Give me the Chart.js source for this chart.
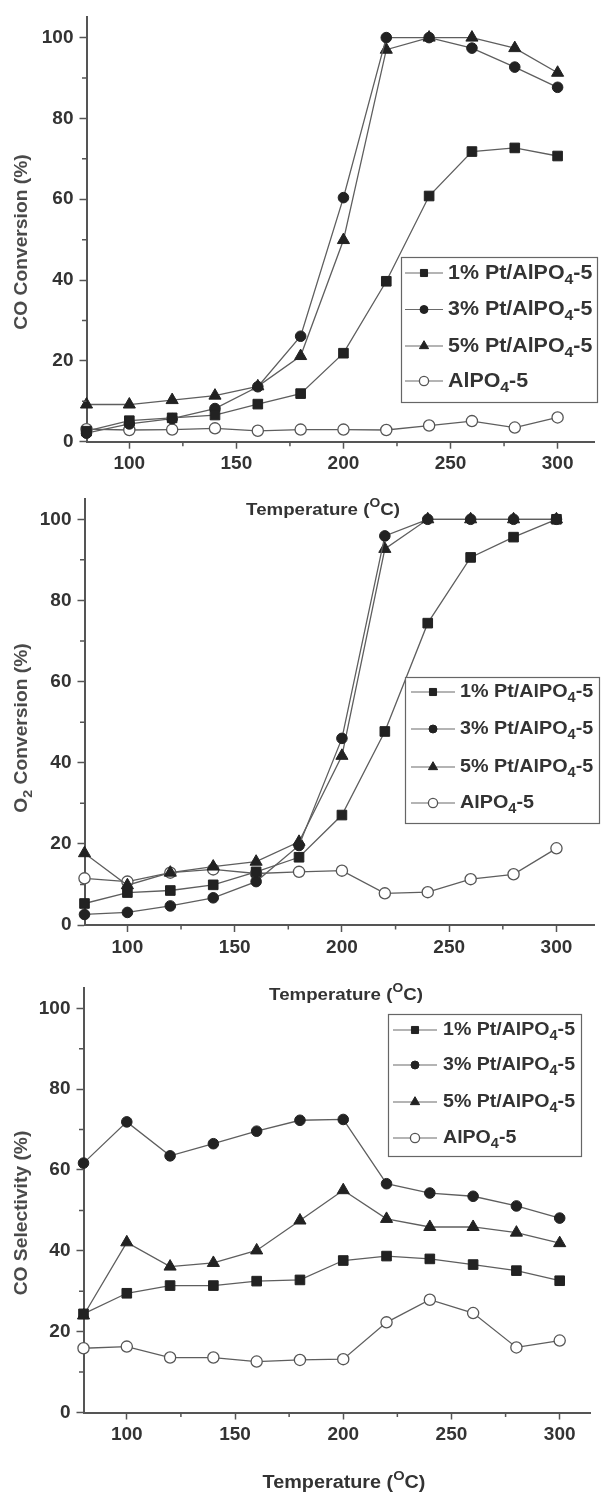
<!DOCTYPE html>
<html><head><meta charset="utf-8">
<script src="https://cdn.jsdelivr.net/npm/chart.js@4.4.0/dist/chart.umd.min.js"></script>
<style>
html,body{margin:0;padding:0;background:#fff;}
#wrap{position:relative;width:602px;height:1495px;overflow:hidden;background:#fff;}
canvas{position:absolute;left:0;}
</style></head><body>
<div id="wrap">
<canvas id="c1" width="602" height="530" style="top:0px"></canvas>
<canvas id="c2" width="602" height="530" style="top:480px"></canvas>
<canvas id="c3" width="602" height="525" style="top:970px"></canvas>
</div>
<script>
// ---------- data ----------
const temperatures = [80,100,120,140,160,180,200,220,240,260,280,300];
const xTickValues = [100,150,200,250,300];
const xMinorTickValues = [125,175,225,275];
const yTickValues = [0,20,40,60,80,100];
const yMinorTickValues = [10,30,50,70,90];

const legendLabels = [
  [['1% Pt/AlPO',''],['4','sub'],['-5','']],
  [['3% Pt/AlPO',''],['4','sub'],['-5','']],
  [['5% Pt/AlPO',''],['4','sub'],['-5','']],
  [['AlPO',''],['4','sub'],['-5','']]
];
const xTitle = [['Temperature (',''],['O','sup'],['C)','']];
const yTitleCO = [['CO Conversion (%)','']];
const yTitleO2 = [['O',''],['2','sub'],[' Conversion (%)','']];
const yTitleSel = [['CO Selectivity (%)','']];

const coConv1 = [2.6,5.2,5.9,6.6,9.3,11.9,21.9,39.7,60.8,71.8,72.7,70.7];
const coConv3 = [2.1,4.4,5.7,8.2,13.6,26.1,60.4,100,100,97.4,92.7,87.7];
const coConv5 = [9.2,9.2,10.3,11.4,13.7,21.2,49.9,97.0,100,100,97.4,91.3];
const coConvSupport = [3.1,2.9,3.0,3.3,2.7,3.0,3.0,2.9,4.0,5.1,3.5,6.0];

const o2Conv1 = [5.3,8.0,8.5,9.9,13.1,16.7,27.1,47.7,74.4,90.6,95.6,100];
const o2Conv3 = [2.6,3.1,4.7,6.7,10.7,19.6,46.0,95.9,100,100,100,100];
const o2Conv5 = [17.7,9.8,12.9,14.4,15.6,20.5,41.7,92.7,100,100,100,100];
const o2ConvSupport = [11.5,10.7,12.9,13.7,12.7,13.1,13.4,7.8,8.1,11.3,12.5,18.9];

const coSel1 = [24.4,29.5,31.4,31.4,32.5,32.8,37.6,38.7,38.0,36.6,35.1,32.6];
const coSel3 = [61.7,71.9,63.5,66.5,69.6,72.3,72.5,56.6,54.3,53.5,51.1,48.1];
const coSel5 = [24.0,42.1,36.1,37.0,40.1,47.5,55.0,47.9,45.9,45.9,44.5,41.9];
const coSelSupport = [15.9,16.3,13.6,13.6,12.6,13.0,13.2,22.3,27.9,24.6,16.1,17.8];

// ---------- styles ----------
const FONT = '"Liberation Sans", Arial, Helvetica, sans-serif';
const markerStyles = [
  {pointStyle:'rect', radius:6.8, fill:'#222', stroke:'#222', bw:1, lr:5},
  {pointStyle:'circle', radius:5.3, fill:'#222', stroke:'#222', bw:1, lr:4},
  {pointStyle:'triangle', radius:7, fill:'#222', stroke:'#222', bw:1, lr:5.3},
  {pointStyle:'circle', radius:5.6, fill:'#fff', stroke:'#555', bw:1.3, lr:4.6}
];

const specs = [
  {id:'c1', h:530, areaLeft:86.5, areaRight:600, areaTop:15.7, areaBottom:441.7, xMax:317,
   series:[coConv1,coConv3,coConv5,coConvSupport], yTitle:yTitleCO, yTitleX:22, yTitleY:242,
   xTitleX:323, xTitleY:510, xTitleSize:17,
   legend:{box:[401,257,598,403], rows:[273,309.5,346,381], lineX:[405,443], markX:424, textX:448, size:20, sx:1.07}},
  {id:'c2', h:530, areaLeft:84.5, areaRight:600, areaTop:19, areaBottom:445, xMax:317.5,
   series:[o2Conv1,o2Conv3,o2Conv5,o2ConvSupport], yTitle:yTitleO2, yTitleX:22, yTitleY:248,
   xTitleX:346, xTitleY:515, xTitleSize:17,
   legend:{box:[405,197,600,344], rows:[212,249,287,323], lineX:[411,455], markX:433, textX:460, size:19, sx:1.04}},
  {id:'c3', h:525, areaLeft:83.5, areaRight:590, areaTop:18.1, areaBottom:442.5, xMax:314,
   series:[coSel1,coSel3,coSel5,coSelSupport], yTitle:yTitleSel, yTitleX:22, yTitleY:243,
   xTitleX:344, xTitleY:513, xTitleSize:18,
   legend:{box:[388,44,582,187], rows:[60,95,132,168], lineX:[393,437], markX:415, textX:443, size:19, sx:1.03}}
];

// ---------- helpers ----------
function partSize(size, m){ return m ? size*0.74 : size; }
function richWidth(ctx, parts, size){
  let w = 0;
  for (const [t,m] of parts){ ctx.font = `bold ${partSize(size,m)}px ${FONT}`; w += ctx.measureText(t).width; }
  return w;
}
function drawRich(ctx, parts, x, y, size, opt){
  const sx = opt.sx || 1;
  const w = richWidth(ctx, parts, size) * sx;
  const x0 = opt.align === 'center' ? x - w/2 : x;
  ctx.save();
  ctx.translate(x0, y);
  ctx.scale(sx, 1);
  ctx.textBaseline = 'middle';
  ctx.textAlign = 'left';
  ctx.fillStyle = opt.color || '#333';
  let cx = 0;
  for (const [t,m] of parts){
    ctx.font = `bold ${partSize(size,m)}px ${FONT}`;
    const dy = m === 'sub' ? size*0.34 : (m === 'sup' ? -size*0.36 : 0);
    ctx.fillText(t, cx, dy);
    cx += ctx.measureText(t).width;
  }
  ctx.restore();
}
function drawMarker(ctx, st, x, y, r){
  ctx.save();
  ctx.fillStyle = st.fill; ctx.strokeStyle = st.stroke; ctx.lineWidth = st.bw;
  ctx.beginPath();
  if (st.pointStyle === 'rect'){
    const s = r*Math.SQRT1_2;
    ctx.rect(x-s, y-s, 2*s, 2*s);
  } else if (st.pointStyle === 'triangle'){
    ctx.moveTo(x, y - r);
    ctx.lineTo(x + r*Math.sin(2*Math.PI/3), y - r*Math.cos(2*Math.PI/3));
    ctx.lineTo(x + r*Math.sin(4*Math.PI/3), y - r*Math.cos(4*Math.PI/3));
    ctx.closePath();
  } else {
    ctx.arc(x, y, r, 0, Math.PI*2);
  }
  ctx.fill(); ctx.stroke();
  ctx.restore();
}

const decorPlugin = {
  id:'decor',
  afterDraw(chart, args, opts){
    const spec = opts.spec;
    const ctx = chart.ctx;
    const xs = chart.scales.x, ys = chart.scales.y;
    // minor ticks
    ctx.save();
    ctx.strokeStyle = '#555'; ctx.lineWidth = 1.5;
    ctx.beginPath();
    for (const v of xMinorTickValues){
      const px = xs.getPixelForValue(v);
      ctx.moveTo(px, xs.top); ctx.lineTo(px, xs.top + 4.5);
    }
    for (const v of yMinorTickValues){
      const py = ys.getPixelForValue(v);
      ctx.moveTo(ys.right, py); ctx.lineTo(ys.right - 4.5, py);
    }
    ctx.stroke();
    ctx.restore();
    // axis titles
    drawRich(ctx, xTitle, spec.xTitleX, spec.xTitleY, spec.xTitleSize, {align:'center', sx:1.1, color:'#333'});
    ctx.save();
    ctx.translate(spec.yTitleX, spec.yTitleY);
    ctx.rotate(-Math.PI/2);
    drawRich(ctx, spec.yTitle, 0, 0, 17.5, {align:'center', sx:1.1, color:'#4a4a4a'});
    ctx.restore();
    // legend
    const L = spec.legend;
    ctx.save();
    ctx.fillStyle = '#fff';
    ctx.fillRect(L.box[0], L.box[1], L.box[2]-L.box[0], L.box[3]-L.box[1]);
    ctx.strokeStyle = '#666'; ctx.lineWidth = 1.2;
    ctx.strokeRect(L.box[0]+0.5, L.box[1]+0.5, L.box[2]-L.box[0]-1, L.box[3]-L.box[1]-1);
    ctx.restore();
    legendLabels.forEach((parts, i) => {
      const y = L.rows[i];
      ctx.save();
      ctx.strokeStyle = '#6a6a6a'; ctx.lineWidth = 1.2;
      ctx.beginPath(); ctx.moveTo(L.lineX[0], y); ctx.lineTo(L.lineX[1], y); ctx.stroke();
      ctx.restore();
      drawMarker(ctx, markerStyles[i], L.markX, y, markerStyles[i].lr);
      drawRich(ctx, parts, L.textX, y, L.size, {align:'left', sx:L.sx, color:'#333'});
    });
  }
};

function build(spec){
  const datasets = spec.series.map((vals, i) => {
    const st = markerStyles[i];
    return {
      data: temperatures.map((t, j) => ({x:t, y:vals[j]})),
      borderColor:'#5e5e5e', borderWidth:1.3, tension:0, fill:false, clip:false,
      pointStyle:st.pointStyle, pointRadius:st.radius, pointBackgroundColor:st.fill,
      pointBorderColor:st.stroke, pointBorderWidth:st.bw
    };
  });
  const tickFont = {family:FONT, size:19, weight:'bold'};
  new Chart(document.getElementById(spec.id), {
    type:'line',
    data:{datasets},
    plugins:[decorPlugin],
    options:{
      responsive:false, animation:false, events:[],
      layout:{padding:{top:spec.areaTop, right:602-spec.areaRight, bottom:0, left:0}},
      plugins:{legend:{display:false}, tooltip:{enabled:false}, decor:{spec}},
      scales:{
        x:{
          type:'linear', min:80, max:spec.xMax,
          afterBuildTicks: s => { s.ticks = xTickValues.map(v => ({value:v})); },
          afterFit: s => { s.height = spec.h - spec.areaBottom; },
          grid:{drawOnChartArea:false, drawTicks:true, tickLength:7, tickColor:'#555', tickWidth:1.5},
          border:{display:true, color:'#555', width:2},
          ticks:{font:tickFont, color:'#333', padding:4, maxRotation:0, autoSkip:false}
        },
        y:{
          type:'linear', min:0, max:105,
          afterBuildTicks: s => { s.ticks = yTickValues.map(v => ({value:v})); },
          afterFit: s => { s.width = spec.areaLeft; },
          grid:{drawOnChartArea:false, drawTicks:true, tickLength:7, tickColor:'#555', tickWidth:1.5},
          border:{display:true, color:'#555', width:2},
          ticks:{font:tickFont, color:'#333', padding:6, autoSkip:false}
        }
      }
    }
  });
}
specs.forEach(build);
</script>
</body></html>
